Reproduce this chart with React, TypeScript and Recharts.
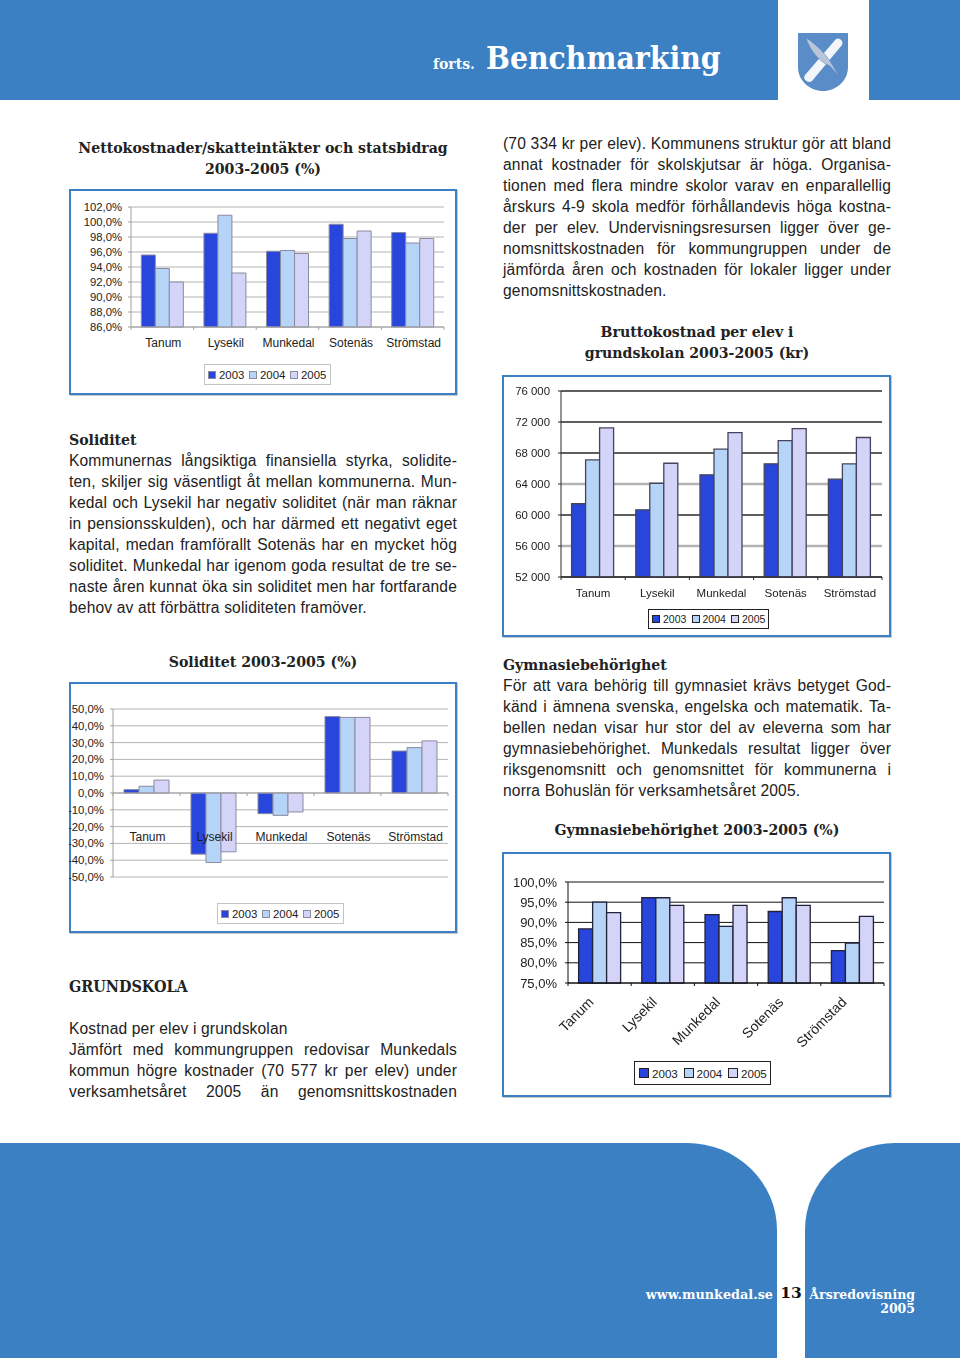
import React from "react";
import { BarChart, Bar, XAxis, YAxis, CartesianGrid, Legend, ReferenceLine } from "recharts";

const towns = ["Tanum", "Lysekil", "Munkedal", "Sotenäs", "Strömstad"];

const netto2003 = [95.6, 98.5, 96.1, 99.7, 98.6];
const netto2004 = [93.8, 100.9, 96.2, 97.8, 97.2];
const netto2005 = [92.0, 93.2, 95.8, 98.8, 97.8];
const nettoTicks = [86, 88, 90, 92, 94, 96, 98, 100, 102];

const brutto2003 = [61450, 60670, 65180, 66600, 64620];
const brutto2004 = [67110, 64100, 68490, 69600, 66600];
const brutto2005 = [71230, 66680, 70630, 71150, 70000];
const bruttoTicks = [52000, 56000, 60000, 64000, 68000, 72000, 76000];

const solid2003 = [2, -36.4, -12.3, 45.5, 25];
const solid2004 = [4, -41.4, -13.3, 45, 27];
const solid2005 = [7.7, -35, -11.3, 45, 31];
const solidTicks = [-50, -40, -30, -20, -10, 0, 10, 20, 30, 40, 50];

const gymn2003 = [88.4, 96.1, 91.9, 92.7, 83];
const gymn2004 = [95, 96.1, 89, 96.1, 84.9];
const gymn2005 = [92.4, 94.2, 94.2, 94.2, 91.5];
const gymnTicks = [75, 80, 85, 90, 95, 100];

const BLUE = "#3a80c3";
const SANS = "'Liberation Sans', Arial, sans-serif";
const SLAB = "'DejaVu Serif', serif";
const SLAB_NARROW = "'DejaVu Serif Condensed', 'DejaVu Serif', serif";
const COLORS = ["#2845dc", "#b5d4f8", "#d4d4f9"];

const toTable = (a: number[], b: number[], c: number[]) =>
  towns.map((town, i) => ({ town, y2003: a[i], y2004: b[i], y2005: c[i] }));

const percent = (v: number) => v.toFixed(1).replace(".", ",") + "%";
const spaced = (v: number) => String(v).replace(/(\d)(\d{3})$/, "$1 $2");

function CategoryTick(props: any) {
  const { x, y, payload, band, labelX = 0, labelY, markY, rotate, size, color, markColor } = props;
  const last = payload.index === towns.length - 1;
  return (
    <g>
      <line x1={x - band / 2} x2={x - band / 2} y1={y + markY} y2={y + markY + 3} stroke={markColor} />
      {last && <line x1={x + band / 2} x2={x + band / 2} y1={y + markY} y2={y + markY + 3} stroke={markColor} />}
      {rotate ? (
        <text x={x - 5} y={y + labelY} transform={`rotate(-45 ${x - 5} ${y + labelY})`} textAnchor="end" fontSize={size} fill={color} fontFamily={SANS}>
          {payload.value}
        </text>
      ) : (
        <text x={x + labelX} y={y + labelY} textAnchor="middle" fontSize={size} fill={color} fontFamily={SANS}>
          {payload.value}
        </text>
      )}
    </g>
  );
}

function BoxLegend({ payload, border, step, size, swatch, pad }: any) {
  return (
    <div style={{ display: "flex", boxSizing: "border-box", height: "100%", border: `1px solid ${border}`, background: "#fff", alignItems: "center", paddingLeft: pad, fontFamily: SANS, fontSize: size, color: "#222" }}>
      {(payload || []).map((p: any) => (
        <div key={p.value} style={{ display: "flex", alignItems: "center", width: step, flex: "none" }}>
          <span style={{ boxSizing: "border-box", width: swatch, height: swatch, background: p.color, border: `1px solid ${border === "#222" ? "#222" : "#8a8aa0"}`, marginRight: 3, flex: "none" }} />
          {p.value}
        </div>
      ))}
    </div>
  );
}

function Chart(props: any) {
  const { frame, plot, data, domain, ticks, format, fontY, fontX, axis, grid, barLine, barWidth = 1, legend, labelX, labelY, markY, rotate, horizontal, zero, blur, gap, color, yMargin = 6 } = props;
  const band = (plot.r - plot.l) / towns.length;
  return (
    <div>
      <div style={{ position: "absolute", left: frame.x, top: frame.y, width: frame.w, height: frame.h, boxSizing: "border-box", border: `2px solid ${BLUE}`, boxShadow: "1px 1px 0 #c9c9c9" }} />
      <div style={{ position: "absolute", left: frame.x, top: frame.y, filter: blur ? `blur(${blur}px)` : undefined }}>
        <BarChart
          width={frame.w}
          height={frame.h}
          data={data}
          barGap={0}
          barCategoryGap={gap}
          margin={{ top: plot.t - frame.y, right: frame.x + frame.w - plot.r, left: 0, bottom: 0 }}
        >
          <CartesianGrid vertical={false} stroke={grid} horizontal={horizontal || true} />
          <YAxis
            width={plot.l - frame.x}
            domain={domain}
            ticks={ticks}
            interval={0}
            tickFormatter={format}
            stroke={axis}
            tickSize={3}
            tickMargin={yMargin}
            tick={{ fontSize: fontY, fill: color, fontFamily: SANS }}
          />
          <Bar dataKey="y2003" name="2003" fill={COLORS[0]} stroke={barLine} strokeWidth={barWidth} isAnimationActive={false} />
          <Bar dataKey="y2004" name="2004" fill={COLORS[1]} stroke={barLine} strokeWidth={barWidth} isAnimationActive={false} />
          <Bar dataKey="y2005" name="2005" fill={COLORS[2]} stroke={barLine} strokeWidth={barWidth} isAnimationActive={false} />
          {zero && <ReferenceLine y={0} stroke={axis} />}
          <XAxis
            dataKey="town"
            height={frame.y + frame.h - plot.b}
            axisLine={!zero && { stroke: axis }}
            tickLine={false}
            tickSize={0}
            tickMargin={0}
            interval={0}
            tick={<CategoryTick band={band} labelX={labelX} labelY={labelY} markY={markY} rotate={rotate} size={fontX} color={color} markColor={axis} />}
          />
          <Legend
            layout="horizontal"
            verticalAlign="middle"
            align="center"
            wrapperStyle={{ left: legend.x - frame.x, top: legend.y - frame.y, width: legend.w, height: legend.h }}
            content={(p: any) => <BoxLegend payload={p.payload} border={legend.border} step={legend.step} size={legend.size} swatch={legend.swatch} pad={legend.pad} />}
          />
        </BarChart>
      </div>
    </div>
  );
}

const bruttoGrid = (p: any) => {
  const soft = p.index === 1 || p.index === 3;
  return <line key={p.key} x1={p.x1} x2={p.x2} y1={p.y1} y2={p.y2} stroke={soft ? "#b4b4b4" : "#2a2a2a"} strokeWidth={soft ? 2.5 : 1.5} />;
};

function Line({ x, y, w, text, just }: any) {
  return (
    <div style={{ position: "absolute", left: x, top: y - 9, width: w, height: 20, lineHeight: "20px", fontFamily: SANS, fontSize: 15.6, letterSpacing: 0.15, color: "#222", whiteSpace: "nowrap", textAlign: "left", textAlignLast: just ? "justify" : "left" }}>
      {text}
    </div>
  );
}

function Para({ x, y, w, lines, ragged = [] }: any) {
  return lines.map((t: string, i: number) => <Line key={i} x={x} y={y + i * 21} w={w} text={t} just={!ragged.includes(i)} />);
}

function Head({ x, y, w, text, align = "center", size = 15.7, color = "#222", family = SLAB_NARROW }: any) {
  return (
    <div style={{ position: "absolute", left: x, top: y - 10, width: w, height: 22, lineHeight: "22px", fontFamily: family, fontWeight: 700, fontSize: size, color, textAlign: align, whiteSpace: "nowrap" }}>
      {text}
    </div>
  );
}

const rightTop = [
  "(70 334 kr per elev). Kommunens struktur gör att bland",
  "annat kostnader för skolskjutsar är höga. Organisa-",
  "tionen med flera mindre skolor varav en enparallellig",
  "årskurs 4-9 skola medför förhållandevis höga kostna-",
  "der per elev. Undervisningsresursen ligger över ge-",
  "nomsnittskostnaden för kommungruppen under de",
  "jämförda åren och kostnaden för lokaler ligger under",
  "genomsnittskostnaden.",
];
const soliditet = [
  "Kommunernas långsiktiga finansiella styrka, solidite-",
  "ten, skiljer sig väsentligt åt mellan kommunerna. Mun-",
  "kedal och Lysekil har negativ soliditet (när man räknar",
  "in pensionsskulden), och har därmed ett negativt eget",
  "kapital, medan framförallt Sotenäs har en mycket hög",
  "soliditet. Munkedal har igenom goda resultat de tre se-",
  "naste åren kunnat öka sin soliditet men har fortfarande",
  "behov av att förbättra soliditeten framöver.",
];
const gymnasie = [
  "För att vara behörig till gymnasiet krävs betyget God-",
  "känd i ämnena svenska, engelska och matematik. Ta-",
  "bellen nedan visar hur stor del av eleverna som har",
  "gymnasiebehörighet. Munkedals  resultat ligger över",
  "riksgenomsnitt och genomsnittet för kommunerna i",
  "norra Bohuslän för verksamhetsåret 2005.",
];
const grundskola = [
  "Kostnad per elev i grundskolan",
  "Jämfört med kommungruppen redovisar Munkedals",
  "kommun högre kostnader (70 577 kr per elev) under",
  "verksamhetsåret 2005 än genomsnittskostnaden",
];

export default function App() {
  return (
    <div style={{ position: "absolute", left: 0, top: 0, width: 960, height: 1358, overflow: "hidden", background: "#fff" }}>
      <div style={{ position: "absolute", left: 0, top: 0, width: 778, height: 100, background: BLUE }} />
      <div style={{ position: "absolute", left: 869, top: 0, width: 91, height: 100, background: BLUE }} />
      <svg style={{ position: "absolute", left: 798, top: 33 }} width={50} height={58} viewBox="0 0 50 58">
        <path d="M0 0H50V34C50 48 38 58 25 58C12 58 0 48 0 34Z" fill="#5a8cc8" />
        <path d="M7 42L38 6C41 4 46 8 44 12L14 48C10 51 4 46 7 42Z" fill="#f2f5fa" />
        <path d="M8 5C17 10 29 22 35 33L41 43L32 33C22 29 12 18 8 5Z" fill="#b9c6da" stroke="#5a8cc8" strokeWidth={0.6} />
      </svg>
      <Head x={433} y={63} w={50} align="left" size={14} color="#fff" family={SLAB} text="forts." />
      <Head x={486} y={57} w={240} align="left" size={31.5} color="#fff" text="Benchmarking" />

      <Head x={69} y={147} w={388} text="Nettokostnader/skatteintäkter och statsbidrag" />
      <Head x={69} y={168} w={388} text="2003-2005 (%)" />
      <Chart
        frame={{ x: 69, y: 189, w: 388, h: 206 }}
        plot={{ l: 131, r: 444, t: 207, b: 327 }}
        data={toTable(netto2003, netto2004, netto2005)}
        domain={[86, 102]}
        ticks={nettoTicks}
        format={percent}
        fontY={11.3}
        fontX={12}
        axis="#a0a0a0"
        grid="#b4b4b4"
        barLine="#8a8aa0"
        gap="16.5%"
        labelX={1}
        labelY={20}
        markY={0}
        color="#222"
        legend={{ x: 204, y: 364, w: 127, h: 21, border: "#c4c4c4", step: 41, size: 11.4, swatch: 8, pad: 3 }}
      />

      <Para x={503} y={143} w={388} lines={rightTop} ragged={[7]} />
      <Head x={503} y={331} w={388} text="Bruttokostnad per elev i" />
      <Head x={503} y={352} w={388} text="grundskolan 2003-2005 (kr)" />
      <Chart
        frame={{ x: 502, y: 375, w: 389, h: 262 }}
        plot={{ l: 561, r: 882, t: 391, b: 577 }}
        data={toTable(brutto2003, brutto2004, brutto2005)}
        domain={[52000, 76000]}
        ticks={bruttoTicks}
        format={spaced}
        fontY={11.4}
        fontX={11.5}
        axis="#2a2a2a"
        grid="#2a2a2a"
        barLine="#44455c"
        barWidth={1.3}
        gap="16.5%"
        labelY={20}
        markY={0}
        color="#222"
        yMargin={8}
        horizontal={bruttoGrid}
        blur={0.7}
        legend={{ x: 648, y: 609, w: 121, h: 20, border: "#222", step: 39.5, size: 10.5, swatch: 8, pad: 3 }}
      />

      <Head x={69} y={439} w={200} align="left" text="Soliditet" />
      <Para x={69} y={460} w={388} lines={soliditet} ragged={[7]} />

      <Head x={69} y={661} w={388} text="Soliditet 2003-2005 (%)" />
      <Chart
        frame={{ x: 69, y: 682, w: 388, h: 251 }}
        plot={{ l: 113, r: 448, t: 709, b: 877 }}
        data={toTable(solid2003, solid2004, solid2005)}
        domain={[-50, 50]}
        ticks={solidTicks}
        format={percent}
        fontY={11.4}
        fontX={12}
        axis="#a0a0a0"
        grid="#b4b4b4"
        barLine="#8a8aa0"
        gap="16.4%"
        labelX={1}
        labelY={-36}
        markY={-84}
        color="#222"
        zero
        legend={{ x: 217, y: 903, w: 127, h: 21, border: "#c4c4c4", step: 41, size: 11.4, swatch: 8, pad: 3 }}
      />

      <Head x={503} y={664} w={300} align="left" text="Gymnasiebehörighet" />
      <Para x={503} y={685} w={388} lines={gymnasie} ragged={[5]} />
      <Head x={503} y={829} w={388} text="Gymnasiebehörighet 2003-2005 (%)" />
      <Chart
        frame={{ x: 502, y: 852, w: 389, h: 245 }}
        plot={{ l: 568, r: 884, t: 882, b: 983 }}
        data={toTable(gymn2003, gymn2004, gymn2005)}
        domain={[75, 100]}
        ticks={gymnTicks}
        format={percent}
        fontY={13}
        fontX={14}
        axis="#111"
        grid="#111"
        barLine="#22233a"
        barWidth={1.3}
        gap="16.8%"
        labelY={20}
        markY={0}
        rotate
        color="#222"
        yMargin={8}
        blur={0.3}
        legend={{ x: 634, y: 1061, w: 137, h: 24, border: "#222", step: 44.5, size: 11.6, swatch: 10, pad: 4 }}
      />

      <Head x={69} y={986} w={300} align="left" size={16} text="GRUNDSKOLA" />
      <Para x={69} y={1028} w={388} lines={grundskola} ragged={[0]} />

      <div style={{ position: "absolute", left: 0, top: 1143, width: 777, height: 215, background: BLUE, borderTopRightRadius: "90px 87px" }} />
      <div style={{ position: "absolute", left: 805, top: 1143, width: 155, height: 215, background: BLUE, borderTopLeftRadius: "90px 87px" }} />
      <Head x={573} y={1294} w={200} align="right" size={12.8} color="#fff" family={SLAB} text="www.munkedal.se" />
      <Head x={775} y={1292} w={32} size={15.5} color="#111" family={SLAB} text="13" />
      <Head x={715} y={1294} w={200} align="right" size={12.5} color="#fff" family={SLAB} text="Årsredovisning" />
      <Head x={715} y={1308} w={200} align="right" size={12.5} color="#fff" family={SLAB} text="2005" />
    </div>
  );
}
